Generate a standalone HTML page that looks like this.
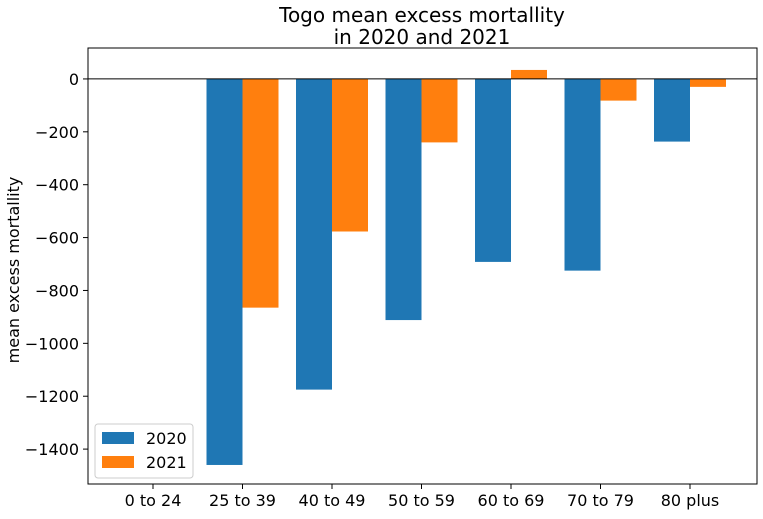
<!DOCTYPE html>
<html><head><meta charset="utf-8"><style>
body{margin:0;background:#fff;}
svg{font-family:"DejaVu Sans","Liberation Sans",sans-serif;}
</style></head><body>
<svg id="chart" width="763" height="514"></svg>
<script>
const categories=["0 to 24","25 to 39","40 to 49","50 to 59","60 to 69","70 to 79","80 plus"];
const values2020=[null,-1460,-1175,-912,-692,-725,-237];
const values2021=[null,-865,-577,-240,34,-82,-30];
const yTicks=[0,-200,-400,-600,-800,-1000,-1200,-1400];
const seriesNames=["2020","2021"];

const NS="http://www.w3.org/2000/svg";
const svg=document.getElementById('chart');
const L=88,R=757,T=48,B=484;
const yMax=117,yMin=-1532;
function y(v){return T+(yMax-v)/(yMax-yMin)*(B-T);}
const step=89.5,x0=153;
function xc(i){return x0+i*step;}
const bw=36;
function mk(tag,attrs,name,text){const e=document.createElementNS(NS,tag);for(const k in attrs)e.setAttribute(k,attrs[k]);


if(text!==undefined)e.textContent=text;svg.appendChild(e);return e;}
mk('rect',{x:L,y:T,width:R-L,height:B-T,fill:'#fff'},'plot-area');
const colors=['#1f77b4','#ff7f0e'];
[values2020,values2021].forEach((arr,s)=>{arr.forEach((v,i)=>{if(v===null)return;
const x=s===0?xc(i)-bw:xc(i);const y1=Math.min(y(v),y(0)),h=Math.abs(y(v)-y(0));
mk('rect',{x:x,y:y1,width:bw,height:h,fill:colors[s]},'bar-'+seriesNames[s]+'-'+categories[i].replace(/ /g,'-'));});});
mk('line',{x1:L,x2:R,y1:y(0),y2:y(0),stroke:'#000','stroke-width':1},'zero-line');
mk('rect',{x:L,y:T,width:R-L,height:B-T,fill:'none',stroke:'#000','stroke-width':1},'plot-frame');
yTicks.forEach(t=>{mk('line',{x1:L-5,x2:L,y1:y(t),y2:y(t),stroke:'#000'},'y-tick');
mk('text',{x:L-9,y:y(t)+6,'text-anchor':'end','font-size':16},'y-tick-label',t===0?'0':'\u2212'+Math.abs(t));});
categories.forEach((c,i)=>{mk('line',{x1:xc(i),x2:xc(i),y1:B,y2:B+5,stroke:'#000'},'x-tick');
mk('text',{x:xc(i),y:B+22,'text-anchor':'middle','font-size':16},'x-tick-label',c);});
mk('text',{x:19,y:(T+B)/2+4,'text-anchor':'middle','font-size':16,transform:'rotate(-90 19 '+((T+B)/2+4)+')'},'y-axis-title','mean excess mortallity');
mk('text',{x:422,y:22,'text-anchor':'middle','font-size':20},'chart-title','Togo mean excess mortallity');
mk('text',{x:422,y:44,'text-anchor':'middle','font-size':20},'chart-title-line2','in 2020 and 2021');
mk('rect',{x:95,y:424,width:98,height:54,rx:3,fill:'#fff',stroke:'#ccc'},'legend');
seriesNames.forEach((n,s)=>{mk('rect',{x:102,y:432+s*24,width:32,height:12,fill:colors[s]},'legend-swatch-'+n);
mk('text',{x:146,y:444+s*24,'font-size':16},'legend-label-'+n,n);});
</script>
</body></html>
